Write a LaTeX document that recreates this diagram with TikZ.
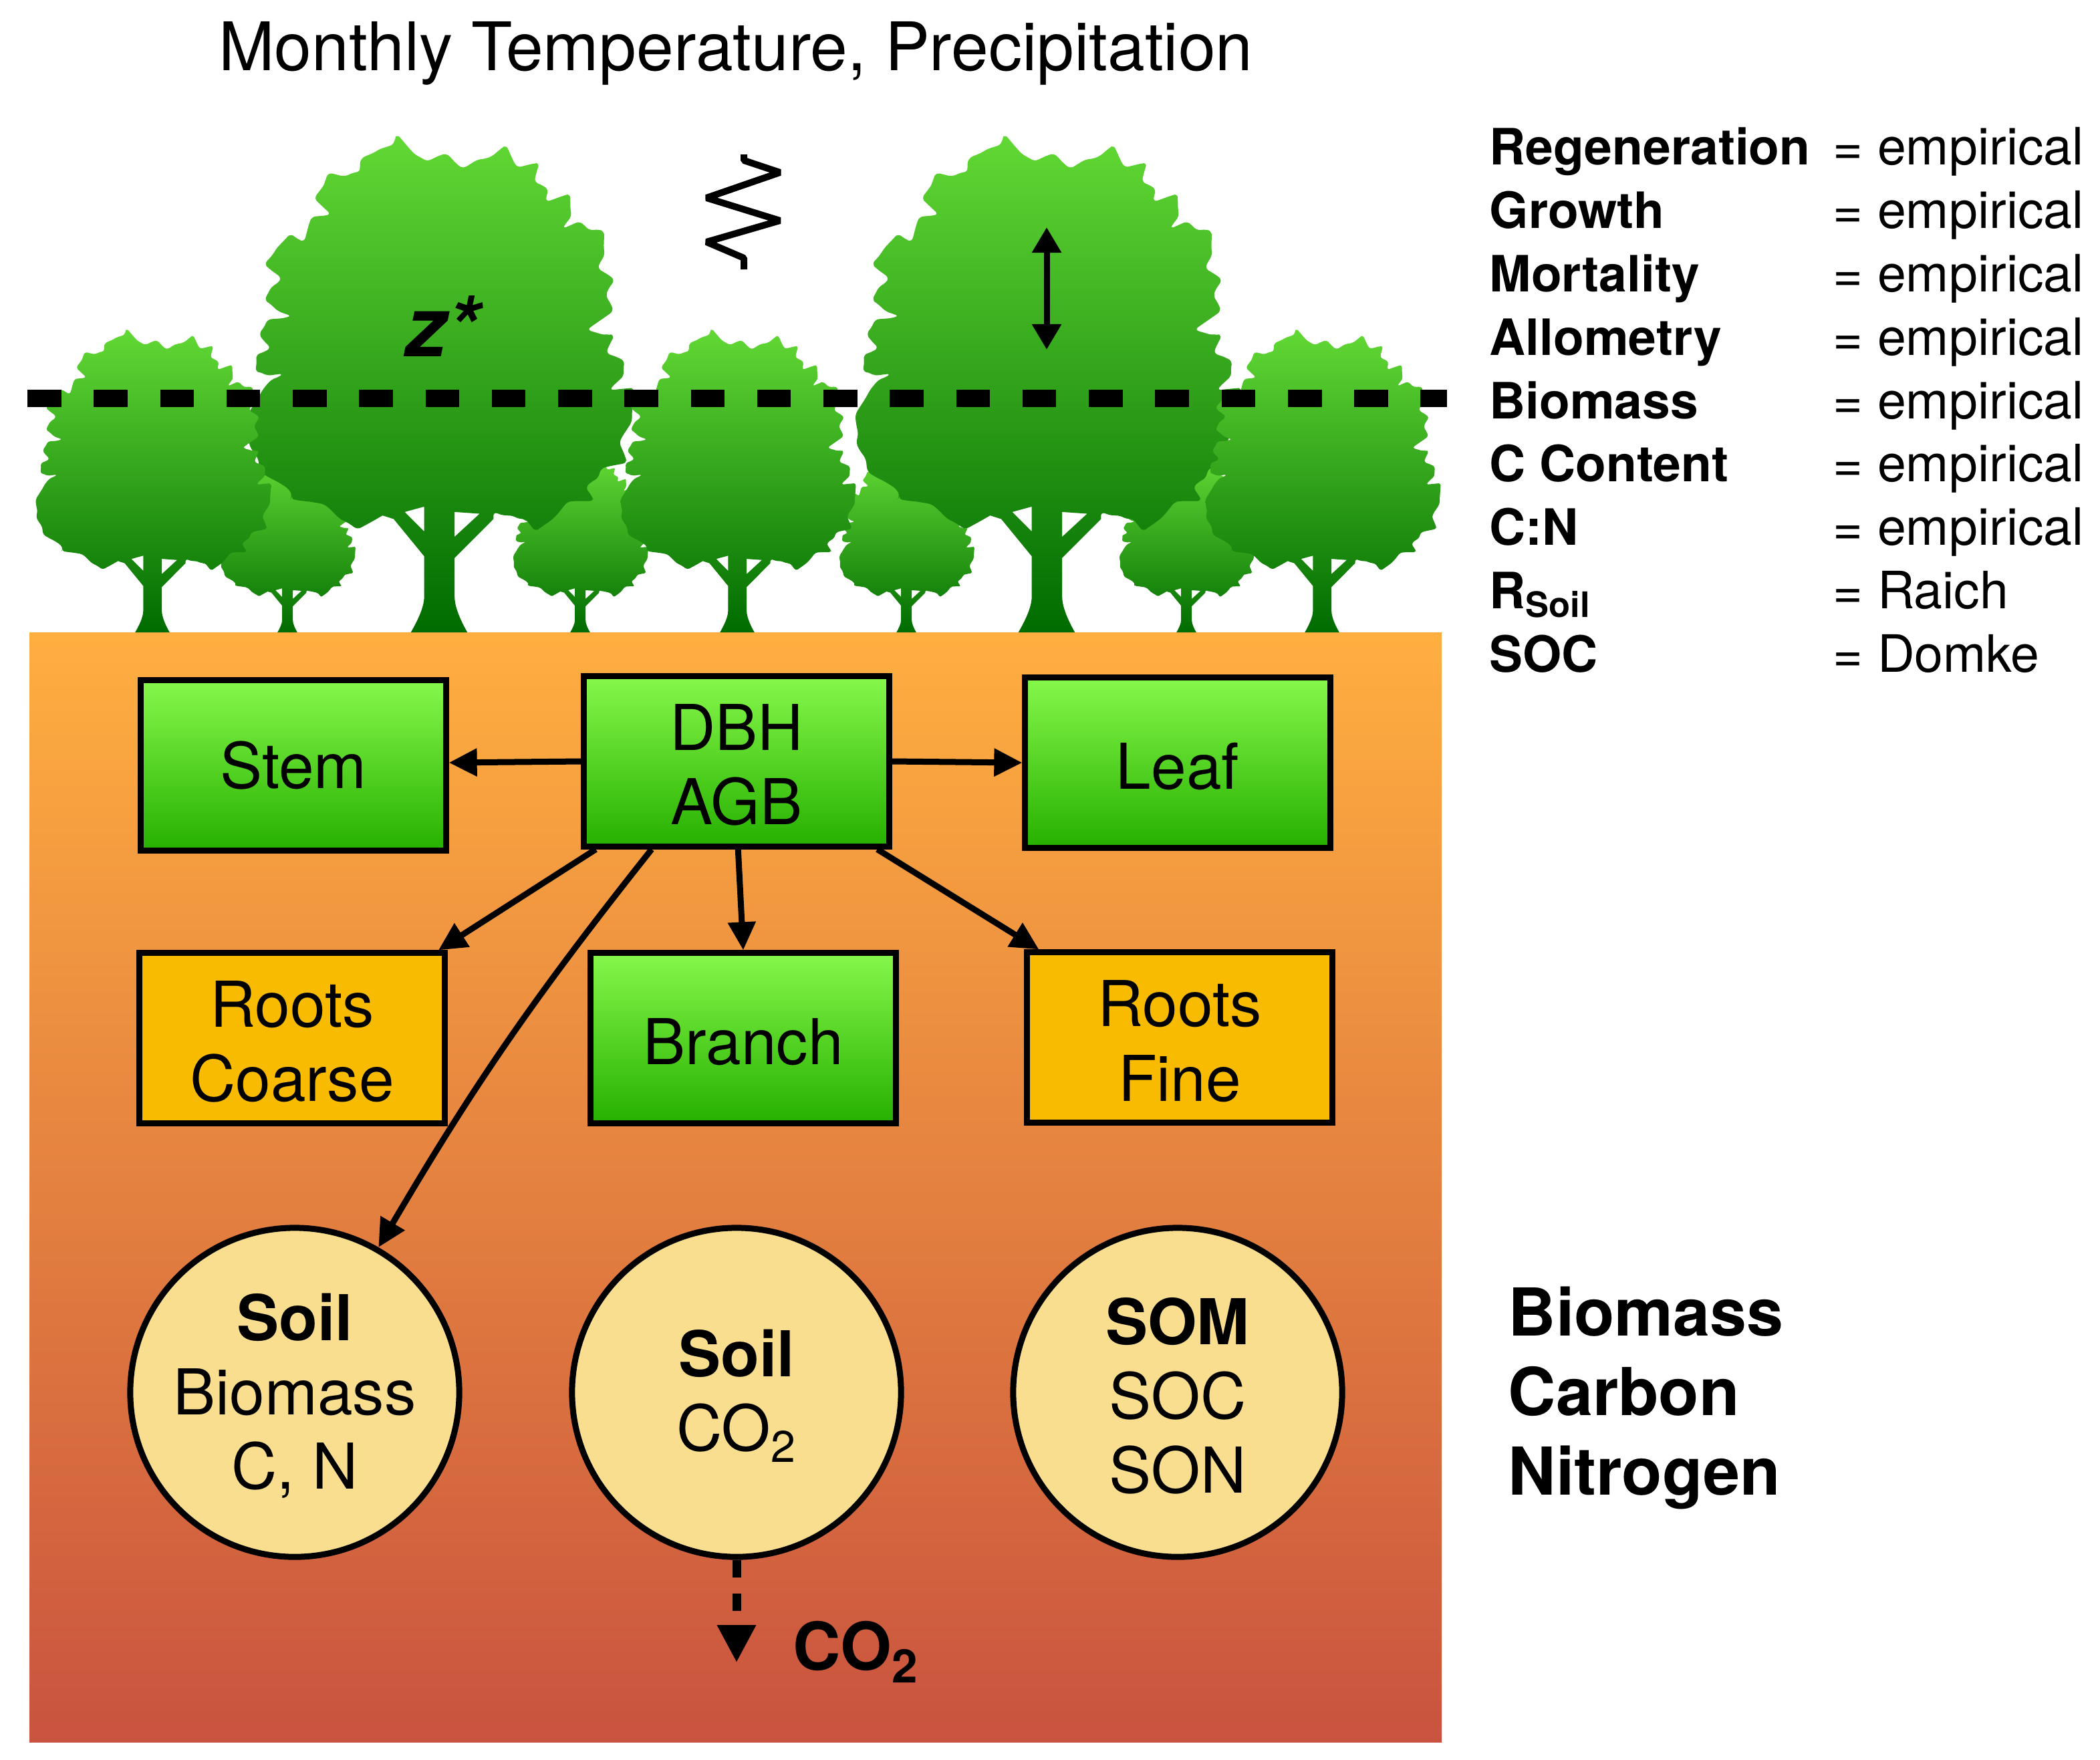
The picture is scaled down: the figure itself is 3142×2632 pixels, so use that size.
\documentclass[tikz,border=0pt]{standalone}
\usepackage{fontspec}
\setmainfont{TeX Gyre Heros}
\usetikzlibrary{arrows.meta,decorations.pathmorphing}

\definecolor{soiltop}{HTML}{FFAF40}
\definecolor{soilbottom}{HTML}{C9533F}
\definecolor{boxtop}{HTML}{86F84A}
\definecolor{boxbottom}{HTML}{26B000}
\definecolor{rootfill}{HTML}{F8BB00}
\definecolor{poolfill}{HTML}{F8DE8E}
\definecolor{treetop}{HTML}{62D935}
\definecolor{treebottom}{HTML}{006B00}

\tikzset{
	boxtext/.style={font=\fontsize{26.9}{31.6}\selectfont,align=center,inner sep=0pt,text=black},
	tissue/.style={boxtext,draw=black,line width=0.09cm,minimum width=4.56cm,minimum height=2.54cm},
	greenbox/.style={tissue,top color=boxtop,bottom color=boxbottom},
	rootbox/.style={tissue,fill=rootfill},
	pool/.style={boxtext,circle,draw=black,line width=0.09cm,fill=poolfill,minimum size=4.92cm},
	flow/.style={line width=0.09cm,-{Triangle[length=0.42cm,width=0.4cm]}},
	key/.style={anchor=base west,inner sep=0pt,font=\fontsize{21.3}{25}\selectfont\bfseries},
	value/.style={anchor=base west,inner sep=0pt,font=\fontsize{21.9}{25}\selectfont},
	sidelabel/.style={anchor=base west,inner sep=0pt,font=\fontsize{28.1}{33}\selectfont\bfseries}
}

\newcommand{\lineup}{\rule{0pt}{0.85em}}

\newcommand{\treeat}[2]{
	\begin{scope}[shift={(#1,946)},x={#2*0.00829cm},y={#2*0.00529cm}]
	\pgfmathsetseed{11}
	\shade[even odd rule,top color=treetop,bottom color=treebottom,rounded corners={#2*0.06cm}]
		decorate[decoration={random steps,segment length={#2*0.16cm},amplitude={#2*0.065cm}}]{
		(-102,330) -- (-142,295) -- (-172,315) -- (-202,355) -- (-262,375) -- (-268,395) -- (-318,448) -- (-341,525) -- (-345,605)
		-- (-322,675) -- (-282,730) -- (-327,735) -- (-330,775) -- (-307,800) -- (-322,835) -- (-312,875) -- (-267,893)
		-- (-312,935) -- (-287,995) -- (-312,1035) -- (-297,1075) -- (-272,1120) -- (-247,1105) -- (-232,1165) -- (-197,1180)
		-- (-222,1220) -- (-202,1290) -- (-147,1300) -- (-142,1330) -- (-112,1360) -- (-87,1375)
		-- (-77,1403) -- (-47,1355) -- (-27,1335) -- (8,1350) -- (38,1315) -- (88,1340) -- (118,1373) -- (138,1320)
		-- (178,1325) -- (173,1280) -- (193,1255) -- (193,1220) -- (233,1237) -- (238,1185) -- (223,1140) -- (248,1157)
		-- (293,1135) -- (298,1075) -- (288,1035) -- (313,1000) -- (303,960) -- (313,915) -- (268,855) -- (313,840)
		-- (303,795) -- (330,770) -- (333,735) -- (308,685) -- (348,690) -- (348,605) -- (328,545) -- (338,485)
		-- (298,465) -- (268,415) -- (278,375) -- (238,370) -- (208,325) -- (178,290) -- (138,325) -- (98,340)}
		[sharp corners] -- (98,320) -- (28,210) -- (28,100) .. controls (28,70) and (40,30) .. (51,0) -- (-51,0)
		.. controls (-40,30) and (-27,70) .. (-27,100) -- (-27,215) -- (-82,320) -- cycle
		(-62,340) -- (-27,285) -- (-27,355) -- cycle
		(28,340) -- (28,270) -- (73,335) -- cycle;
	\end{scope}
}

\begin{document}
\begin{tikzpicture}[x=0.01cm,y=-0.01cm]
	\useasboundingbox (0,0) rectangle (3142,2632);
	\shade[top color=soiltop,bottom color=soilbottom] (44,946) rectangle (2157,2606);

	\treeat{430}{0.35}
	\treeat{868}{0.35}
	\treeat{1356}{0.35}
	\treeat{1775}{0.35}
	\treeat{657}{1}
	\treeat{1566}{1}
	\treeat{228}{0.61}
	\treeat{1103}{0.61}
	\treeat{1978}{0.61}

	\draw[line width=0.255cm,dash pattern=on 0.506cm off 0.486cm] (41,596) -- (2165,596);
	\draw[line width=0.1cm,line join=bevel] (1113,231) -- (1113,240) -- (1167,258) -- (1057,296) -- (1167,330) -- (1057,362) -- (1113,386) -- (1113,403);

	\node[inner sep=0pt,font=\fontsize{35.5}{40}\selectfont\bfseries\itshape] (zstar) at (662,488){z*};
	\coordinate (heightup) at (1566,340);
	\coordinate (heightdown) at (1566,523);
	\draw[line width=0.09cm,{Triangle[length=0.38cm,width=0.42cm]}-{Triangle[length=0.38cm,width=0.42cm]}] (heightup) -- (heightdown);

	\node[inner sep=0pt,font=\fontsize{28.5}{33}\selectfont] (title) at (1101,80){Monthly Temperature, Precipitation};

	\node[greenbox] (dbh) at (1102,1139){\lineup DBH\\AGB};
	\node[greenbox] (stem) at (439,1145){Stem};
	\node[greenbox] (leaf) at (1762,1141){\lineup Leaf};
	\node[rootbox] (coarse) at (437,1553){\lineup Roots\\Coarse};
	\node[greenbox] (branch) at (1112,1553){\lineup Branch};
	\node[rootbox] (fine) at (1765,1552){\lineup Roots\\Fine};
	\node[pool] (soilmass) at (441,2083){\lineup\textbf{Soil}\\Biomass\\C, N};
	\node[pool] (soilgas) at (1102,2083){\lineup\textbf{Soil}\\CO\textsubscript{2}};
	\node[pool] (som) at (1762,2083){\lineup\textbf{SOM}\\SOC\\SON};

	\draw[flow] (dbh.west) -- (stem.1);
	\draw[flow] (dbh.east) -- (leaf.west);
	\draw[flow] (dbh.-148) -- (coarse.31);
	\draw[flow] (dbh.-89) -- (branch.north);
	\draw[flow] (dbh.-32) -- (fine.148);
	\draw[flow] (dbh.-134) to[bend right=4] (soilmass.60);

	\coordinate (co2end) at (1102,2487);
	\draw[line width=0.13cm,dash pattern=on 0.265cm off 0.235cm,-{Triangle[length=0.56cm,width=0.55cm]}] (soilgas.south) -- (co2end);
	\node[sidelabel] (co2) at (1186,2498){CO\textsubscript{2}};

	\node[sidelabel] (biomass) at (2256,1998){Biomass};
	\node[sidelabel] (carbon) at (2256,2117){Carbon};
	\node[sidelabel] (nitrogen) at (2256,2236){Nitrogen};

	\node[key] (k1) at (2228,246){Regeneration};
	\node[key] (k2) at (2228,341){Growth};
	\node[key] (k3) at (2228,436){Mortality};
	\node[key] (k4) at (2228,531){Allometry};
	\node[key] (k5) at (2228,626){Biomass};
	\node[key] (k6) at (2228,720){C Content};
	\node[key] (k7) at (2228,815){C:N};
	\node[key] (k8) at (2228,910){R\textsubscript{Soil}};
	\node[key] (k9) at (2228,1005){SOC};

	\node[value] (v1) at (2742,246){= empirical};
	\node[value] (v2) at (2742,341){= empirical};
	\node[value] (v3) at (2742,436){= empirical};
	\node[value] (v4) at (2742,531){= empirical};
	\node[value] (v5) at (2742,626){= empirical};
	\node[value] (v6) at (2742,720){= empirical};
	\node[value] (v7) at (2742,815){= empirical};
	\node[value] (v8) at (2742,910){= Raich};
	\node[value] (v9) at (2742,1005){= Domke};
\end{tikzpicture}
\end{document}
